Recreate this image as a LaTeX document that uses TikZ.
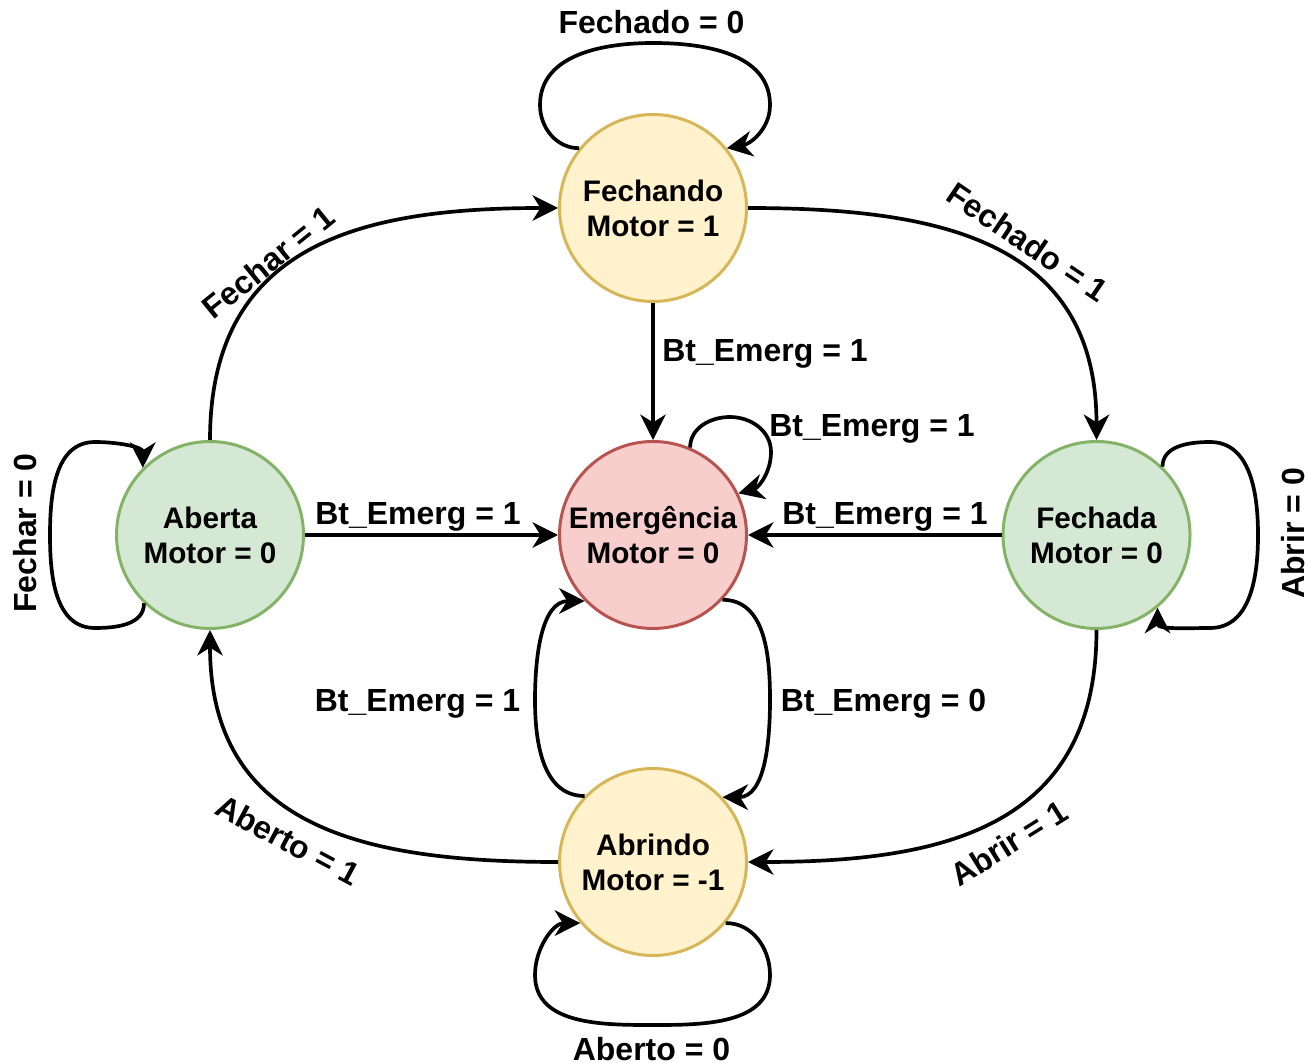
\documentclass[tikz,border=0pt]{standalone}
\usepackage{fontspec}
\setmainfont{Liberation Sans}
\usetikzlibrary{arrows.meta}

\definecolor{yfill}{HTML}{FFF2CC}
\definecolor{ydraw}{HTML}{D6B656}
\definecolor{gfill}{HTML}{D5E8D4}
\definecolor{gdraw}{HTML}{82B366}
\definecolor{rfill}{HTML}{F8CECC}
\definecolor{rdraw}{HTML}{B85450}

\begin{document}
\begin{tikzpicture}[
  state/.style={circle,line width=1.7pt,minimum size=3.74cm,inner sep=0pt,align=center,
    font=\fontsize{16.9}{19.9}\selectfont\bfseries},
  yel/.style={state,draw=ydraw,fill=yfill},
  grn/.style={state,draw=gdraw,fill=gfill},
  red/.style={state,draw=rdraw,fill=rfill},
  lbl/.style={inner sep=0pt,font=\fontsize{18.2}{21}\selectfont\bfseries},
  trans/.style={line width=2.1pt,-{Stealth[length=14.5pt,width=14.5pt,inset=4.5pt]}}
]
\useasboundingbox (0,0) rectangle (26.10,21.24);

%---------------------------------------------------
\node[yel] (fechando) at (13.06,17.08) {Fechando\\Motor = 1};
\node[red] (emerg)    at (13.06,10.54) {Emergência\\Motor = 0};
\node[grn] (aberta)   at (4.20,10.54)  {Aberta\\Motor = 0};
\node[grn] (fechada)  at (21.93,10.54) {Fechada\\Motor = 0};
\node[yel] (abrindo)  at (13.06,4.00)  {Abrindo\\Motor = -1};

%---------------------------------------------------
\draw[trans] (aberta.north) to[out=90,in=180,looseness=1.2] (fechando.west);
\draw[trans] (fechando.east) to[out=0,in=90,looseness=1.2] (fechada.north);
\draw[trans] (fechada.south) to[out=270,in=0,looseness=1.2] (abrindo.east);
\draw[trans] (abrindo.west) to[out=180,in=270,looseness=1.2] (aberta.south);

\draw[trans] (fechando) -- (emerg);
\draw[trans] (aberta) -- (emerg);
\draw[trans] (fechada) -- (emerg);

\draw[trans] (emerg.-43) to[out=0,in=90] (15.40,7.24) to[out=270,in=0] (abrindo.43);
\draw[trans] (abrindo.136) to[out=180,in=270] (10.70,7.24) to[out=90,in=180] (emerg.224);

%--------------------------------------------------
\draw[trans] (fechando.141) to[out=180,in=270] (10.80,19.14) to[out=90,in=180] (13.06,20.38)
  to[out=0,in=90] (15.40,19.14) to[out=270,in=10] (fechando.39);
\draw[trans] (emerg.67) to[out=90,in=180] (14.60,12.90) to[out=0,in=90] (15.42,12.20)
  to[out=270,in=15] (emerg.26);
\draw[trans] (abrindo.-40) to[out=0,in=90] (15.40,1.74) to[out=270,in=0] (13.06,0.74)
  to[out=180,in=270] (10.70,1.74) to[out=90,in=180] (abrindo.220);
\draw[trans] (aberta.226) to[out=270,in=0] (1.90,8.68) to[out=180,in=270] (1.00,10.54)
  to[out=90,in=180] (1.90,12.40) to[out=0,in=90] (aberta.135);
\draw[trans] (fechada.46) to[out=90,in=180] (24.20,12.40) to[out=0,in=90] (25.16,10.54)
  to[out=270,in=0] (24.20,8.68) to[out=180,in=270] (fechada.-50);

%------------------------------------------------
\node[lbl,rotate=39]  (l_fechar1)  at (5.36,16.00)  {Fechar = 1};
\node[lbl,rotate=-34] (l_fechado1) at (20.56,16.40) {Fechado = 1};
\node[lbl,rotate=32]  (l_abrir1)   at (20.18,4.38)  {Abrir = 1};
\node[lbl,rotate=-28] (l_aberto1)  at (5.76,4.44)   {Aberto = 1};

\node[lbl] (l_bt_n)    at (15.30,14.17) {Bt\_Emerg = 1};
\node[lbl] (l_bt_loop) at (17.44,12.67) {Bt\_Emerg = 1};
\node[lbl] (l_bt_w)    at (8.36,10.91)  {Bt\_Emerg = 1};
\node[lbl] (l_bt_e)    at (17.70,10.91) {Bt\_Emerg = 1};
\node[lbl] (l_bt_sw)   at (8.35,7.17)   {Bt\_Emerg = 1};
\node[lbl] (l_bt_se)   at (17.67,7.17)  {Bt\_Emerg = 0};

\node[lbl] (l_fechado0) at (13.03,20.79) {Fechado = 0};
\node[lbl] (l_aberto0)  at (13.03,0.26)  {Aberto = 0};
\node[lbl,rotate=90] (l_fechar0) at (0.50,10.58)  {Fechar = 0};
\node[lbl,rotate=90] (l_abrir0)  at (25.87,10.57) {Abrir = 0};

\end{tikzpicture}
\end{document}
